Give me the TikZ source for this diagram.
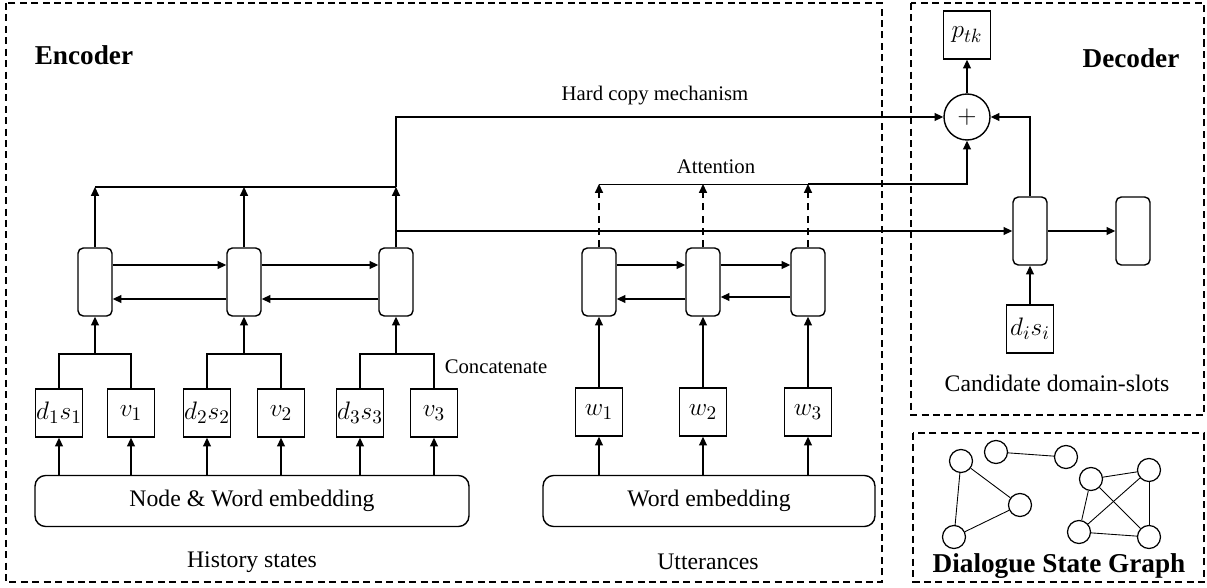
\documentclass[tikz,border=0pt]{standalone}
\usepackage{fontspec}
\setmainfont{LiberationSerif}[Extension=.ttf, UprightFont=*-Regular, BoldFont=*-Bold, ItalicFont=*-Italic]
\newfontfamily\tnr{LiberationSerif}[Extension=.ttf, UprightFont=*-Regular, BoldFont=*-Bold, ItalicFont=*-Italic]
\usetikzlibrary{arrows.meta,calc}

\tikzset{
  cell/.style={draw, rounded corners=3pt, minimum width=0.68cm, minimum height=1.36cm, inner sep=0pt},
  tok/.style={draw, minimum width=0.94cm, minimum height=0.96cm, inner sep=0pt, font=\fontsize{15}{17}\selectfont},
  embed/.style={draw, rounded corners=6pt, minimum height=1.02cm, inner sep=0pt, font=\tnr\fontsize{13.5}{16}\selectfont},
  frame/.style={draw, line width=0.6pt, dash pattern=on 4pt off 2.5pt},
  gnode/.style={draw, circle, minimum size=0.46cm, inner sep=0pt, line width=0.7pt},
  small/.style={font=\tnr\fontsize{11.8}{14}\selectfont},
  big/.style={font=\tnr\fontsize{13.5}{16}\selectfont},
  title/.style={font=\tnr\fontsize{15.5}{18}\selectfont\bfseries},
  arr/.style={-{Triangle[length=5pt,width=4.5pt]}},
  dasharr/.style={arr, dash pattern=on 4pt off 3pt},
}

\begin{document}
\begin{tikzpicture}[x=0.02cm, y=-0.02cm, line width=0.8pt]
  \useasboundingbox (0,0) rectangle (1207,588);

  % Frames
  \draw[frame] (6,3) rectangle (882,582);
  \draw[frame] (911,3) rectangle (1204,415);
  \draw[frame] (913,433) rectangle (1204,582);

  \node[title] (enc) at (84,55) {Encoder};
  \node[title] (dec) at (1131,58) {Decoder};
  \node[title] (dsg) at (1059,566) {Dialogue State Graph};

  % Levels
  \coordinate (htop) at (0,187);
  \coordinate (hline) at (0,117);
  \coordinate (aline) at (0,184);
  \coordinate (hj) at (0,354);

  % History states
  \node[embed, minimum width=8.68cm] (hemb) at (252,501) {Node \& Word embedding};
  \node[big] (hist) at (252,562) {History states};
  \node[tok] (ds1) at (59,413) {$d_1s_1$};
  \node[tok] (v1) at (131,413) {$v_1$};
  \node[tok] (ds2) at (207,413) {$d_2s_2$};
  \node[tok] (v2) at (281,413) {$v_2$};
  \node[tok] (ds3) at (360,413) {$d_3s_3$};
  \node[tok] (v3) at (434,413) {$v_3$};
  \node[cell] (h1) at (95,282) {};
  \node[cell] (h2) at (244,282) {};
  \node[cell] (h3) at (396,282) {};
  \node[small] (concat) at (496,367) {Concatenate};

  % Utterances
  \node[embed, minimum width=6.64cm] (uemb) at (709,501) {Word embedding};
  \node[big] (utt) at (708,562) {Utterances};
  \node[tok] (w1) at (599,412) {$w_1$};
  \node[tok] (w2) at (703,412) {$w_2$};
  \node[tok] (w3) at (808,412) {$w_3$};
  \node[cell] (u1) at (599,282) {};
  \node[cell] (u2) at (703,282) {};
  \node[cell] (u3) at (808,282) {};

  % Decoder
  \node[draw, circle, minimum size=0.92cm, inner sep=0pt, font=\fontsize{15}{17}\selectfont] (plus) at (967,117) {$+$};
  \node[tok] (ptk) at (967,35) {$p_{tk}$};
  \node[cell] (dc) at (1030,231) {};
  \node[cell] (dout) at (1133,231) {};
  \node[tok] (dsi) at (1030,329) {$d_is_i$};
  \node[big] (cand) at (1057,383) {Candidate domain-slots};

  \node[small] (hard) at (655,96) {Hard copy mechanism};
  \node[small] (att) at (716,167) {Attention};

  % Embeddings to tokens
  \foreach \t in {ds1,v1,ds2,v2,ds3,v3}
    \draw[arr] (\t |- hemb.north) -- (\t.south);
  \foreach \t in {w1,w2,w3}
    \draw[arr] (\t |- uemb.north) -- (\t.south);

  % Concatenate
  \draw (ds1.north) -- (ds1.north |- hj) -- (v1.north |- hj) -- (v1.north);
  \draw (ds2.north) -- (ds2.north |- hj) -- (v2.north |- hj) -- (v2.north);
  \draw (ds3.north) -- (ds3.north |- hj) -- (v3.north |- hj) -- (v3.north);
  \draw[arr] (h1.south |- hj) -- (h1.south);
  \draw[arr] (h2.south |- hj) -- (h2.south);
  \draw[arr] (h3.south |- hj) -- (h3.south);
  \draw[arr] (w1) -- (u1);
  \draw[arr] (w2) -- (u2);
  \draw[arr] (w3) -- (u3);

  % BiGRU links
  \draw[arr] ([yshift=0.34cm]h1.east) -- ([yshift=0.34cm]h2.west);
  \draw[arr] ([yshift=0.34cm]h2.east) -- ([yshift=0.34cm]h3.west);
  \draw[arr] ([yshift=-0.34cm]h2.west) -- ([yshift=-0.34cm]h1.east);
  \draw[arr] ([yshift=-0.34cm]h3.west) -- ([yshift=-0.34cm]h2.east);
  \draw[arr] ([yshift=0.34cm]u1.east) -- ([yshift=0.34cm]u2.west);
  \draw[arr] ([yshift=0.34cm]u2.east) -- ([yshift=0.34cm]u3.west);
  \draw[arr] ([yshift=-0.34cm]u2.west) -- ([yshift=-0.34cm]u1.east);
  \draw[arr] ([yshift=-0.30cm]u3.west) -- ([yshift=-0.30cm]u2.east);

  % Hard copy mechanism
  \draw[arr] (h1.north) -- (h1.north |- htop);
  \draw[arr] (h2.north) -- (h2.north |- htop);
  \draw[arr] (h3.north) -- (h3.north |- htop);
  \draw (h1.north |- htop) -- (h3.north |- htop);
  \draw[arr] (h3.north |- htop) -- (h3.north |- hline) -- (plus.west);

  % Attention
  \draw[dasharr] (u1.north) -- (u1.north |- aline);
  \draw[dasharr] (u2.north) -- (u2.north |- aline);
  \draw[dasharr] (u3.north) -- (u3.north |- aline);
  \draw[line width=0.5pt] (u1.north |- aline) -- (u3.north |- aline);
  \draw[arr] (u3.north |- aline) -- (plus.south |- aline) -- (plus.south);

  % Decoder links
  \draw[arr] (h3.north |- dc.west) -- (dc.west);
  \draw[arr] (dsi) -- (dc);
  \draw[arr] (dc) -- (dout);
  \draw[arr] (dc.north) |- (plus.east);
  \draw[arr] (plus) -- (ptk);

  % Dialogue state graph
  \node[gnode] (g1) at (961,461) {};
  \node[gnode] (g2) at (996,452) {};
  \node[gnode] (g3) at (1066,457) {};
  \node[gnode] (g4) at (1020,505) {};
  \node[gnode] (g5) at (954,537) {};
  \node[gnode] (g6) at (1091,479) {};
  \node[gnode] (g7) at (1149,470) {};
  \node[gnode] (g8) at (1079,532) {};
  \node[gnode] (g9) at (1149,537) {};
  \foreach \a/\b in {g1/g5,g1/g4,g4/g5,g2/g3,g6/g7,g6/g8,g6/g9,g7/g8,g7/g9,g8/g9}
    \draw[line width=0.5pt] (\a) -- (\b);

\end{tikzpicture}
\end{document}
